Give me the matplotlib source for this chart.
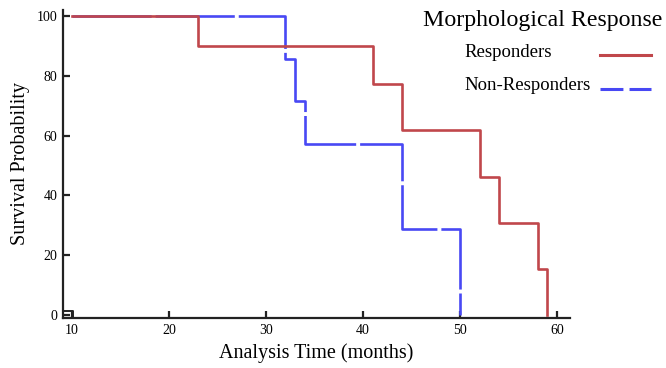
import matplotlib.pyplot as plt
from matplotlib.lines import Line2D

plt.rcParams['font.family'] = ['Liberation Serif', 'DejaVu Serif']

# Kaplan-Meier step data
resp_t = [10, 23, 41, 44, 52, 54, 58, 59]
resp_s = [100, 90, 77.1, 61.7, 46.3, 30.9, 15.4, 0]
nonresp_t = [10, 32, 33, 34, 44, 50]
nonresp_s = [100, 85.7, 71.4, 57.1, 28.6, 0]

x_ticks = [10, 20, 30, 40, 50, 60]
y_ticks = [0, 20, 40, 60, 80, 100]

red = '#c0474b'
blue = '#4848f4'

fig = plt.figure(figsize=(6.66, 3.68), dpi=100)
ax = fig.add_axes([0.0946, 0.136, 0.761, 0.837])

ax.step(nonresp_t, nonresp_s, where='post', color=blue, lw=1.9,
        dashes=(30, 1.5), solid_capstyle='butt')
ax.step(resp_t, resp_s, where='post', color=red, lw=1.9)
# small mark at the origin
ax.plot([9.1, 10.1, 10.1], [1.2, 1.2, -1], color='#222222', lw=1.4, clip_on=False)

ax.set_xlim(9.1, 61.3)
ax.set_ylim(-1, 102)
ax.set_xticks(x_ticks)
ax.set_yticks(y_ticks)
ax.tick_params(direction='in', length=5, width=1.6, labelsize=10, pad=4, color='#222222')
for s in ['top', 'right']:
    ax.spines[s].set_visible(False)
for s in ['left', 'bottom']:
    ax.spines[s].set_linewidth(1.6)
    ax.spines[s].set_color('#222222')

ax.set_xlabel('Analysis Time (months)', fontsize=14.5, labelpad=5)
ax.set_ylabel('Survival Probability', fontsize=14.5, labelpad=5)

# legend drawn by hand: text left-aligned, handles right-aligned
fig.text(0.815, 0.945, 'Morphological Response', fontsize=17.2, ha='center', va='center')
fig.text(0.698, 0.858, 'Responders', fontsize=13.5, ha='left', va='center')
fig.text(0.698, 0.768, 'Non-Responders', fontsize=13.5, ha='left', va='center')
fig.add_artist(Line2D([0.901, 0.978], [0.851, 0.851], transform=fig.transFigure,
                      color=red, lw=2.2))
fig.add_artist(Line2D([0.901, 0.978], [0.758, 0.758], transform=fig.transFigure,
                      color=blue, lw=2.2, dashes=(7.5, 2)))

fig.savefig('out.png', dpi=100)
